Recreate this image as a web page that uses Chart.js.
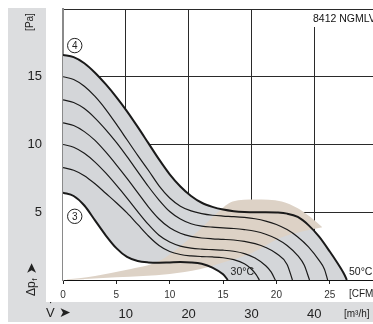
<!DOCTYPE html>
<html>
<head>
<meta charset="utf-8">
<script src="https://cdn.jsdelivr.net/npm/chart.js@4.4.1/dist/chart.umd.min.js"></script>
<style>
  html, body { margin: 0; padding: 0; background: #fff; }
  #wrap { width: 373px; height: 324px; }
</style>
</head>
<body>
<div id="wrap"><canvas id="fanChart" width="373" height="324"></canvas></div>
<script>
// ====== data: [CFM, Pa] ======
const cfmTicks = [0, 5, 10, 15, 20, 25];
const m3hTicks = [0, 10, 20, 30, 40];
const paTicks = [0, 5, 10, 15, 20];
const CFM_TO_M3H = 1.699;
const CFM_MAX = 29.05;

// curve (4) - upper limit
const curve4 = [[0,16.6],[1,16.45],[2,16.0],[3,15.3],[4,14.45],[5,13.5],[6,12.45],[7,11.3],[8,10.1],[9,8.9],[10,7.8],[11,6.9],[12,6.2],[13,5.7],[14,5.4],[15,5.2],[16,5.08],[17,5.02],[18,5.0],[19,5.0],[20,4.98],[21,4.9],[22,4.65],[23,4.05],[24,3.2],[25,2.1],[26,0.9],[26.4,0.35],[26.6,0]];
// intermediate curves
const curveA = [[0,15.0],[1,14.8],[2,14.3],[3,13.55],[4,12.6],[5,11.5],[6,10.35],[7,9.2],[8,8.1],[9,6.95],[10,6.05],[11,5.45],[12,5.1],[13,4.9],[14,4.78],[15,4.72],[16,4.68],[17,4.62],[18,4.52],[19,4.35],[20,4.1],[21,3.72],[22,3.18],[23,2.45],[24,1.45],[24.5,0.8],[24.8,0]];
const curveB = [[0,13.3],[1,13.1],[2,12.65],[3,11.95],[4,11.1],[5,10.15],[6,9.1],[7,8.0],[8,6.9],[9,5.9],[10,5.05],[11,4.5],[12,4.15],[13,3.98],[14,3.9],[15,3.85],[16,3.8],[17,3.72],[18,3.6],[19,3.38],[20,3.05],[21,2.55],[22,1.8],[22.6,1.1],[23.1,0]];
const curveC = [[0,11.6],[1,11.4],[2,10.95],[3,10.3],[4,9.45],[5,8.5],[6,7.5],[7,6.45],[8,5.4],[9,4.5],[10,3.85],[11,3.45],[12,3.22],[13,3.1],[14,3.04],[15,3.0],[16,2.95],[17,2.85],[18,2.68],[19,2.4],[20,1.95],[21,1.15],[21.5,0]];
const curveD = [[0,10.0],[1,9.8],[2,9.35],[3,8.7],[4,7.9],[5,7.0],[6,6.05],[7,5.05],[8,4.1],[9,3.3],[10,2.8],[11,2.5],[12,2.35],[13,2.28],[14,2.24],[15,2.2],[16,2.12],[17,1.95],[18,1.62],[19,1.05],[19.5,0.6],[19.9,0]];
const curveE = [[0,8.3],[1,8.1],[2,7.7],[3,7.1],[4,6.4],[5,5.7],[6,4.95],[7,4.1],[8,3.25],[9,2.55],[10,2.1],[11,1.88],[12,1.78],[13,1.73],[14,1.7],[15,1.64],[16,1.5],[17,1.2],[17.6,0.85],[18.1,0.4],[18.4,0]];
// curve (3) - lower limit
const curve3 = [[0,6.45],[1,6.2],[2,5.5],[3,4.4],[4,3.3],[5,2.35],[6,1.7],[7,1.4],[8,1.3],[9,1.28],[10,1.3],[11,1.32],[12,1.3],[13,1.2],[14,0.92],[15,0.42],[15.45,0]];
// beige band
const bandUpper = [[0,0],[3,0.3],[6,0.75],[9,1.4],[11,2.5],[12.8,3.7],[14.5,5.0],[15.9,5.8],[18,5.95],[20.5,5.8],[22,5.3],[23.1,4.7],[24.3,3.9]];
const bandLower = [[0,0],[5,0.2],[10,0.45],[12.8,0.8],[15,1.3],[17.7,2.0],[20.3,3.1],[22.5,3.6],[24.3,3.9]];

const pts = (arr) => arr.map(p => ({ x: p[0], y: p[1] }));

const GREY_BG = "#dcdddf";
const GREY_FILL = "#d4d6d9";
const BEIGE = "#ddd2c6";
const FONT = "'Liberation Sans', Arial, 'DejaVu Sans', sans-serif";

function curve(data, width, fill, bg) {
  return {
    data: pts(data),
    borderColor: "#1a1a1a",
    borderWidth: width,
    pointRadius: 0,
    cubicInterpolationMode: "monotone",
    fill: fill,
    backgroundColor: bg || "rgba(0,0,0,0)"
  };
}

function noPad(s) {
  s.paddingTop = 0;
  s.paddingBottom = 0;
  s.paddingLeft = 0;
  s.paddingRight = 0;
}

// ====== frame, labels, notes ======
const decor = {
  id: "decor",
  beforeDraw(chart) {
    const c = chart.ctx;
    c.save();
    c.fillStyle = GREY_BG;
    c.fillRect(8, 8, 38, 314);
    c.fillRect(8, 302, 365, 20);
    c.restore();
  },
  afterDraw(chart) {
    const c = chart.ctx;
    const x = chart.scales.x, y = chart.scales.y;
    c.save();
    c.fillStyle = "#222";

    // [Pa] and Δpf ➤ (rotated)
    c.save();
    c.translate(30, 22);
    c.rotate(-Math.PI / 2);
    c.font = "10px " + FONT;
    c.textAlign = "center";
    c.textBaseline = "middle";
    c.fillText("[Pa]", 0, 0);
    c.restore();

    c.save();
    c.translate(32, 296);
    c.rotate(-Math.PI / 2);
    c.font = "12px " + FONT;
    c.textAlign = "left";
    c.textBaseline = "middle";
    c.fillText("Δp", 0, 0);
    const w = c.measureText("Δp").width;
    c.font = "8px " + FONT;
    c.fillText("f", w + 0.5, 3);
    c.font = "14px " + FONT;
    c.fillText("➤", w + 7, 0);
    c.restore();

    // V̇ ➤ and units
    c.font = "13px " + FONT;
    c.textBaseline = "middle";
    c.textAlign = "left";
    c.fillText("V", 46, 313);
    c.fillText("˙", 49, 307);
    c.font = "14px " + FONT;
    c.fillText("➤", 59, 313);
    c.font = "10px " + FONT;
    c.fillText("[m³/h]", 344, 314);
    c.fillText("[CFM]", 349, 294);

    // temperature labels
    c.font = "10.5px " + FONT;
    c.fillText("30°C", x.getPixelForValue(15.7), y.getPixelForValue(0.55));
    c.fillText("50°C", x.getPixelForValue(26.8), y.getPixelForValue(0.55));

    // circled curve numbers
    [["4", 1.1, 17.3], ["3", 1.1, 4.7]].forEach(([t, cx, cy]) => {
      const px = x.getPixelForValue(cx), py = y.getPixelForValue(cy);
      c.beginPath();
      c.arc(px, py, 7.2, 0, Math.PI * 2);
      c.fillStyle = "#fff";
      c.fill();
      c.lineWidth = 1;
      c.strokeStyle = "#222";
      c.stroke();
      c.fillStyle = "#222";
      c.font = "10px " + FONT;
      c.textAlign = "center";
      c.fillText(t, px, py + 0.5);
    });

    // type label in top right corner
    c.fillStyle = "#fff";
    c.fillRect(311, 10, 62, 17);
    c.fillStyle = "#111";
    c.font = "10.5px " + FONT;
    c.textAlign = "left";
    c.fillText("8412 NGMLV", 313, 19);
    c.restore();
  }
};

// ====== Chart.js ======
const ctx = document.getElementById("fanChart").getContext("2d");

const fanChart = new Chart(ctx, {
  type: "line",
  data: {
    datasets: [
      { data: pts(bandUpper), borderWidth: 0, pointRadius: 0, cubicInterpolationMode: "monotone", fill: 1, backgroundColor: BEIGE },
      { data: pts(bandLower), borderWidth: 0, pointRadius: 0, cubicInterpolationMode: "monotone", fill: false },
      curve(curve3, 2, "origin", "#ffffff"),
      curve(curveE, 1.2, false),
      curve(curveD, 1.2, false),
      curve(curveC, 1.2, false),
      curve(curveB, 1.2, false),
      curve(curveA, 1.2, false),
      curve(curve4, 2, "origin", GREY_FILL)
    ]
  },
  options: {
    responsive: false,
    animation: false,
    devicePixelRatio: 1,
    layout: { padding: { top: 9, left: 0, right: 0, bottom: 0 } },
    plugins: {
      legend: { display: false },
      tooltip: { enabled: false },
      filler: { drawTime: "beforeDatasetsDraw" }
    },
    scales: {
      x: {
        type: "linear",
        position: "bottom",
        min: 0,
        max: CFM_MAX,
        z: 1,
        weight: 0,
        afterBuildTicks: (s) => { s.ticks = cfmTicks.map(v => ({ value: v })); },
        afterFit: (s) => { s.height = 22; noPad(s); },
        border: { display: true, color: "#111", width: 1 },
        grid: { drawOnChartArea: false, drawTicks: true, tickLength: 4, color: "#222" },
        ticks: { font: { size: 10, family: FONT }, color: "#333", padding: 5, maxRotation: 0 }
      },
      x2: {
        type: "linear",
        position: "bottom",
        min: 0,
        max: CFM_MAX * CFM_TO_M3H,
        z: 1,
        weight: 1,
        afterBuildTicks: (s) => { s.ticks = m3hTicks.map(v => ({ value: v })); },
        afterFit: (s) => { s.height = 22; noPad(s); },
        border: { display: false },
        grid: {
          drawOnChartArea: true,
          drawTicks: false,
          color: (c) => (c.tick && c.tick.value === 0 ? "rgba(0,0,0,0)" : "#2a2a2a")
        },
        ticks: {
          font: { size: 13, family: FONT },
          color: "#222",
          padding: 5,
          maxRotation: 0,
          callback: (v) => (v === 0 ? "" : v)
        }
      },
      y: {
        type: "linear",
        position: "left",
        min: 0,
        max: 20,
        z: 1,
        afterBuildTicks: (s) => { s.ticks = paTicks.map(v => ({ value: v })); },
        afterFit: (s) => { s.width = 63; noPad(s); },
        border: { display: true, color: "#8a8a8a", width: 2 },
        grid: {
          drawTicks: false,
          color: (c) => (c.tick && c.tick.value === 0 ? "rgba(0,0,0,0)" : "#2a2a2a")
        },
        ticks: {
          font: { size: 13, family: FONT },
          color: "#222",
          padding: 21,
          callback: (v) => (v === 0 || v === 20 ? "" : v)
        }
      }
    }
  },
  plugins: [decor]
});
</script>
</body>
</html>
